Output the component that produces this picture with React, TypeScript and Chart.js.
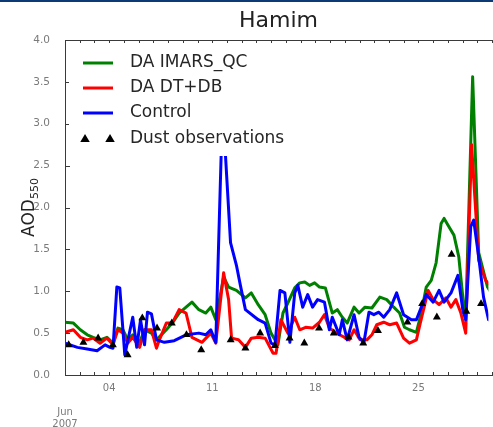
import React, { useEffect, useRef } from 'react';
import { Chart, registerables } from 'chart.js';

Chart.register(...registerables);

// x values are days since 2007-06-01 00:00
const chartTitle = 'Hamim';
const legendLabels = ['DA IMARS_QC', 'DA DT+DB', 'Control', 'Dust observations'];
const xTickDays = [0, 3, 10, 17, 24];
const xTickLabels = [['', '', 'Jun', '2007'], '04', '11', '18', '25'];
const yTicks = [0, 0.5, 1, 1.5, 2, 2.5, 3, 3.5, 4];

const imarsDays = [0, 0.57, 1.04, 1.51, 1.91, 2.38, 2.85, 3.26, 3.59, 3.93, 4.26, 4.6, 5.07, 5.4, 5.87, 6.21, 6.88, 7.28, 7.75, 8.22, 8.62, 9.09, 9.56, 9.9, 10.24, 10.77, 11.11, 11.64, 12.25, 12.65, 13.12, 13.59, 13.99, 14.46, 14.8, 15.13, 15.6, 15.94, 16.28, 16.61, 16.95, 17.28, 17.68, 18.15, 18.49, 18.83, 19.16, 19.63, 19.97, 20.37, 20.84, 21.38, 21.85, 22.32, 22.72, 23.05, 23.39, 23.86, 24.19, 24.53, 24.87, 25.2, 25.54, 25.74, 26.07, 26.41, 26.74, 27.08, 27.21, 27.68, 28.09, 28.69, 29.23];
const imarsAod = [0.63, 0.62, 0.54, 0.48, 0.45, 0.42, 0.45, 0.38, 0.56, 0.54, 0.42, 0.48, 0.39, 0.54, 0.5, 0.42, 0.54, 0.62, 0.74, 0.81, 0.87, 0.78, 0.74, 0.81, 0.66, 1.17, 1.05, 1.01, 0.92, 0.98, 0.84, 0.72, 0.5, 0.36, 0.74, 0.86, 1.04, 1.1, 1.11, 1.07, 1.1, 1.05, 1.04, 0.74, 0.78, 0.69, 0.62, 0.81, 0.74, 0.81, 0.8, 0.93, 0.9, 0.81, 0.74, 0.57, 0.54, 0.51, 0.74, 1.05, 1.13, 1.34, 1.81, 1.87, 1.77, 1.67, 1.41, 0.81, 0.69, 3.56, 1.46, 1.05, 0.9];

const dtdbDays = [0, 0.57, 1.04, 1.51, 1.91, 2.38, 2.85, 3.26, 3.59, 3.93, 4.26, 4.6, 5.07, 5.4, 5.87, 6.21, 6.41, 6.88, 7.28, 7.75, 8.22, 8.62, 9.3, 9.9, 10.24, 10.77, 11.11, 11.31, 11.78, 12.25, 12.65, 13.12, 13.59, 14.13, 14.33, 14.66, 15.13, 15.6, 15.94, 16.34, 16.81, 17.28, 17.62, 17.95, 18.36, 18.96, 19.3, 19.63, 20.03, 20.5, 20.84, 21.17, 21.64, 22.05, 22.52, 22.99, 23.39, 23.86, 24.06, 24.66, 25.0, 25.4, 25.87, 26.21, 26.54, 26.88, 27.21, 27.61, 28.09, 28.56, 29.23];
const dtdbAod = [0.51, 0.54, 0.45, 0.42, 0.44, 0.38, 0.44, 0.36, 0.54, 0.5, 0.38, 0.45, 0.33, 0.54, 0.54, 0.32, 0.42, 0.62, 0.62, 0.78, 0.74, 0.45, 0.39, 0.5, 0.38, 1.22, 0.9, 0.44, 0.42, 0.33, 0.44, 0.45, 0.44, 0.26, 0.26, 0.66, 0.5, 0.69, 0.54, 0.57, 0.56, 0.63, 0.72, 0.56, 0.51, 0.45, 0.42, 0.54, 0.42, 0.42, 0.48, 0.6, 0.63, 0.6, 0.62, 0.44, 0.38, 0.42, 0.57, 1.01, 0.9, 0.84, 0.92, 0.81, 0.9, 0.74, 0.5, 2.75, 1.37, 1.13, 1.01];

const controlDays = [0, 0.84, 1.51, 2.18, 2.72, 3.05, 3.26, 3.52, 3.72, 4.06, 4.6, 4.87, 5.13, 5.4, 5.6, 5.87, 6.21, 6.75, 7.42, 8.22, 9.09, 9.56, 9.9, 10.24, 10.7, 11.24, 11.64, 11.91, 12.25, 13.12, 13.59, 13.99, 14.26, 14.6, 14.93, 15.27, 15.6, 15.81, 16.14, 16.48, 16.81, 17.15, 17.62, 17.95, 18.15, 18.62, 18.83, 19.16, 19.63, 19.97, 20.3, 20.64, 20.97, 21.31, 21.64, 22.05, 22.52, 22.99, 23.52, 23.86, 24.53, 25.0, 25.4, 25.74, 26.21, 26.68, 27.01, 27.21, 27.55, 27.75, 28.09, 28.42, 28.76, 29.23];
const controlAod = [0.38, 0.33, 0.31, 0.29, 0.36, 0.33, 0.32, 1.05, 1.04, 0.24, 0.69, 0.33, 0.66, 0.36, 0.75, 0.73, 0.42, 0.39, 0.41, 0.48, 0.5, 0.48, 0.54, 0.39, 3.22, 1.58, 1.31, 1.07, 0.78, 0.66, 0.62, 0.38, 0.36, 1.01, 0.98, 0.39, 0.98, 1.07, 0.81, 0.96, 0.81, 0.9, 0.87, 0.54, 0.69, 0.48, 0.66, 0.42, 0.72, 0.45, 0.39, 0.75, 0.72, 0.75, 0.69, 0.78, 0.98, 0.72, 0.66, 0.66, 0.96, 0.87, 1.01, 0.87, 0.98, 1.19, 0.78, 0.66, 1.77, 1.85, 1.41, 0.93, 0.66, 0.54];

const dustDays = [0.25, 1.25, 2.25, 3.25, 4.25, 5.25, 6.25, 7.25, 8.25, 9.25, 11.25, 12.25, 13.25, 14.25, 15.25, 16.25, 17.25, 18.25, 19.25, 20.25, 21.25, 23.25, 24.25, 25.25, 26.25, 27.25, 28.25];
const dustAod = [0.36, 0.39, 0.44, 0.36, 0.24, 0.68, 0.56, 0.62, 0.48, 0.3, 0.42, 0.32, 0.5, 0.35, 0.44, 0.38, 0.56, 0.5, 0.45, 0.38, 0.53, 0.63, 0.85, 0.69, 1.44, 0.76, 0.85];

const GREEN = '#008000';
const RED = '#ff0000';
const BLUE = '#0000ff';
const FONT = '"DejaVu Sans", sans-serif';

const toPts = (xs: number[], ys: number[]) => xs.map((d, i) => ({ x: d, y: ys[i] }));

function drawTriangle(ctx: CanvasRenderingContext2D, cx: number, cy: number, r: number) {
  ctx.beginPath();
  ctx.moveTo(cx, cy - r);
  ctx.lineTo(cx + r * 0.95, cy + r * 0.6);
  ctx.lineTo(cx - r * 0.95, cy + r * 0.6);
  ctx.closePath();
  ctx.fill();
}

const decorPlugin = {
  id: 'decor',
  afterDatasetsDraw(chart: any) {
    const { ctx, chartArea: a, scales } = chart;
    const x = scales.x;
    const y = scales.y;
    ctx.save();
    // spines
    ctx.strokeStyle = '#3a3a3a';
    ctx.lineWidth = 1;
    ctx.beginPath();
    ctx.moveTo(a.right + 5, a.top + 0.5);
    ctx.lineTo(a.left + 0.5, a.top + 0.5);
    ctx.lineTo(a.left + 0.5, a.bottom + 0.5);
    ctx.lineTo(a.right + 5, a.bottom + 0.5);
    ctx.stroke();
    // x minor ticks (daily) top & bottom, inward
    ctx.beginPath();
    for (let d = 0; d <= 29; d++) {
      const px = Math.round(x.getPixelForValue(d)) + 0.5;
      ctx.moveTo(px, a.bottom);
      ctx.lineTo(px, a.bottom - 3);
      ctx.moveTo(px, a.top);
      ctx.lineTo(px, a.top + 3);
    }
    for (const v of yTicks) {
      const py = Math.round(y.getPixelForValue(v)) + 0.5;
      ctx.moveTo(a.left, py);
      ctx.lineTo(a.left + 5, py);
    }
    ctx.stroke();

    // legend
    ctx.fillStyle = '#ffffff';
    ctx.fillRect(a.left + 4, a.top + 6, 232, 110);
    const colors = [GREEN, RED, BLUE];
    const rowY = [a.top + 23, a.top + 48, a.top + 73, a.top + 99];
    ctx.lineWidth = 3;
    colors.forEach((c, i) => {
      ctx.strokeStyle = c;
      ctx.beginPath();
      ctx.moveTo(a.left + 18, rowY[i]);
      ctx.lineTo(a.left + 48, rowY[i]);
      ctx.stroke();
    });
    ctx.fillStyle = '#000';
    drawTriangle(ctx, a.left + 20, rowY[3], 5);
    drawTriangle(ctx, a.left + 45, rowY[3], 5);
    ctx.fillStyle = '#262626';
    ctx.font = `17px ${FONT}`;
    ctx.textAlign = 'left';
    ctx.textBaseline = 'middle';
    legendLabels.forEach((t, i) => ctx.fillText(t, a.left + 65, rowY[i]));

    // title
    ctx.font = `22px ${FONT}`;
    ctx.textAlign = 'center';
    ctx.fillStyle = '#222';
    ctx.fillText(chartTitle, x.getPixelForValue(14.5), 21);

    // y-axis title with subscript
    ctx.translate(28, (a.top + a.bottom) / 2);
    ctx.rotate(-Math.PI / 2);
    ctx.font = `17px ${FONT}`;
    const w1 = ctx.measureText('AOD').width;
    ctx.font = `11px ${FONT}`;
    const w2 = ctx.measureText('550').width;
    const start = -(w1 + w2) / 2;
    ctx.textAlign = 'left';
    ctx.textBaseline = 'alphabetic';
    ctx.font = `17px ${FONT}`;
    ctx.fillText('AOD', start, 6);
    ctx.font = `11px ${FONT}`;
    ctx.fillText('550', start + w1, 10);
    ctx.restore();
  },
};

export default function App() {
  const ref = useRef<HTMLCanvasElement | null>(null);
  useEffect(() => {
    if (!ref.current) return;
    const lineDs = (label: string, xs: number[], ys: number[], color: string) => ({
      type: 'line' as const,
      label,
      data: toPts(xs, ys),
      borderColor: color,
      backgroundColor: color,
      borderWidth: 3,
      pointRadius: 0,
      tension: 0,
      borderJoinStyle: 'round' as const,
      borderCapStyle: 'round' as const,
    });
    const chart = new Chart(ref.current, {
      type: 'line',
      data: {
        datasets: [
          {
            type: 'scatter' as any,
            label: legendLabels[3],
            data: toPts(dustDays, dustAod),
            showLine: false,
            pointStyle: 'triangle',
            pointRadius: 4.6,
            backgroundColor: '#000',
            borderColor: '#000',
            borderWidth: 0,
          } as any,
          lineDs(legendLabels[2], controlDays, controlAod, BLUE),
          lineDs(legendLabels[1], dtdbDays, dtdbAod, RED),
          lineDs(legendLabels[0], imarsDays, imarsAod, GREEN),
        ],
      },
      options: {
        responsive: false,
        animation: false,
        events: [],
        layout: { padding: { top: 40, right: 0, bottom: 0, left: 0 } },
        plugins: {
          legend: { display: false },
          title: { display: false },
          tooltip: { enabled: false },
        },
        scales: {
          x: {
            type: 'linear',
            min: 0,
            max: 28.75,
            afterFit: (s: any) => {
              s.height = 52;
            },
            afterBuildTicks: (s: any) => {
              s.ticks = xTickDays.map((v) => ({ value: v }));
            },
            grid: { display: false },
            border: { display: false },
            ticks: {
              autoSkip: false,
              maxRotation: 0,
              padding: -1,
              color: '#7a7a7a',
              font: { family: FONT, size: 10 },
              callback: (v: any) => {
                const i = xTickDays.indexOf(Number(v));
                return i >= 0 ? xTickLabels[i] : '';
              },
            },
          },
          y: {
            type: 'linear',
            min: 0,
            max: 4,
            afterFit: (s: any) => {
              s.width = 65;
            },
            afterBuildTicks: (s: any) => {
              s.ticks = yTicks.map((v) => ({ value: v }));
            },
            grid: { display: false },
            border: { display: false },
            ticks: {
              padding: 7,
              color: '#7a7a7a',
              font: { family: FONT, size: 10.5 },
              callback: (v: any) => Number(v).toFixed(1),
            },
          },
        },
      },
      plugins: [decorPlugin],
    });
    return () => chart.destroy();
  }, []);

  return (
    <div style={{ position: 'absolute', left: 0, top: 0, width: 493, height: 427, background: '#fff', overflow: 'hidden' }}>
      <div style={{ position: 'absolute', left: 0, top: 0, width: 493, height: 2, background: '#0b3a74' }} />
      <canvas ref={ref} width={493} height={427} style={{ display: 'block' }} />
    </div>
  );
}
